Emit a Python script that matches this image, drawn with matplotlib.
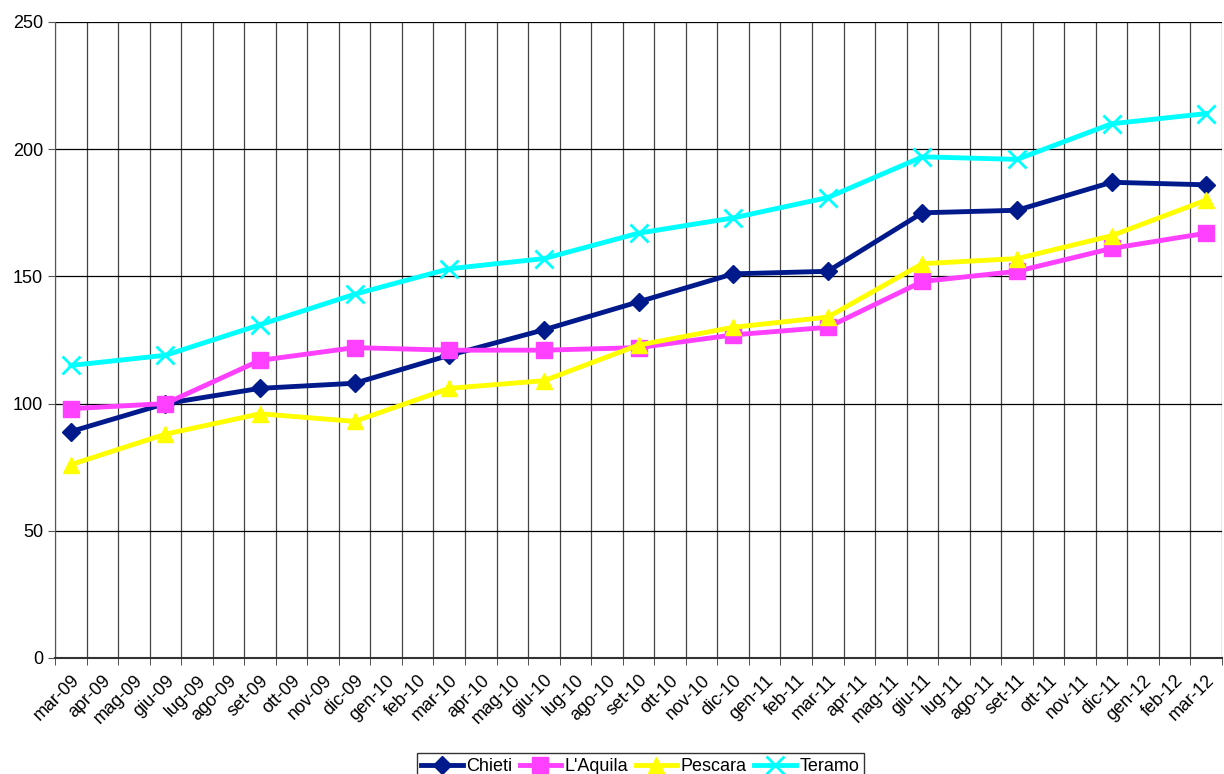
import numpy as np
import matplotlib
matplotlib.use('Agg')
import matplotlib.pyplot as plt

plt.rcParams['font.family'] = ['Liberation Sans', 'DejaVu Sans']

# mesi (etichette asse x)
months = ['mar-09', 'apr-09', 'mag-09', 'giu-09', 'lug-09', 'ago-09', 'set-09', 'ott-09', 'nov-09',
          'dic-09', 'gen-10', 'feb-10', 'mar-10', 'apr-10', 'mag-10', 'giu-10', 'lug-10', 'ago-10',
          'set-10', 'ott-10', 'nov-10', 'dic-10', 'gen-11', 'feb-11', 'mar-11', 'apr-11', 'mag-11',
          'giu-11', 'lug-11', 'ago-11', 'set-11', 'ott-11', 'nov-11', 'dic-11', 'gen-12', 'feb-12',
          'mar-12']
# dati trimestrali
quarters = ['mar-09', 'giu-09', 'set-09', 'dic-09', 'mar-10', 'giu-10', 'set-10', 'dic-10',
            'mar-11', 'giu-11', 'set-11', 'dic-11', 'mar-12']
chieti = [89, 100, 106, 108, 119, 129, 140, 151, 152, 175, 176, 187, 186]
laquila = [98, 100, 117, 122, 121, 121, 122, 127, 130, 148, 152, 161, 167]
pescara = [76, 88, 96, 93, 106, 109, 123, 130, 134, 155, 157, 166, 180]
teramo = [115, 119, 131, 143, 153, 157, 167, 173, 181, 197, 196, 210, 214]

series = [('Chieti', chieti, '#001A8C', 'D', 9),
          ("L'Aquila", laquila, '#FF40FF', 's', 11),
          ('Pescara', pescara, '#FFFF00', '^', 11),
          ('Teramo', teramo, '#00FFFF', 'x', 13)]

fig = plt.figure(figsize=(12.24, 7.74), dpi=100)
ax = fig.add_axes([55 / 1224, 1 - 658 / 774, (1222 - 55) / 1224, (658 - 22) / 774])

xq = [months.index(q) for q in quarters]
for name, vals, col, mk, ms in series:
    if mk == 'x':
        ax.plot(xq, vals, color=col, lw=3.5, marker=mk, ms=ms, mew=2, label=name, zorder=3)
    else:
        ax.plot(xq, vals, color=col, lw=3.5, marker=mk, ms=ms, mec=col, label=name, zorder=3)

ax.set_xlim(-0.5, len(months) - 0.5)
ax.set_ylim(0, 250)
ax.set_yticks(np.arange(0, 251, 50))
ax.set_xticks(np.arange(len(months)))
ax.set_xticklabels(months, rotation=45, ha='right', rotation_mode='anchor', fontsize=13)
ax.tick_params(axis='x', length=0, pad=10)
ax.set_xticks(np.arange(-0.5, len(months)), minor=True)
ax.tick_params(axis='x', which='minor', length=5, color='#333333')
ax.tick_params(axis='y', labelsize=13, length=5, color='#555555')
ax.grid(axis='y', color='black', lw=0.9)
ax.grid(axis='x', which='minor', color='#444444', lw=0.9)
ax.set_axisbelow(True)
for s in ['top', 'right']:
    ax.spines[s].set_visible(False)
ax.spines['left'].set_color('#555555')
ax.spines['bottom'].set_color('#333333')
ax.spines['bottom'].set_linewidth(1.5)

leg = fig.legend(loc='lower center', bbox_to_anchor=(0.523, -0.014), ncol=4, fontsize=13,
                 frameon=True, fancybox=False, edgecolor='black', handlelength=2.3,
                 columnspacing=0.4, handletextpad=0.2, borderpad=0.25, borderaxespad=0.3)
leg.get_frame().set_linewidth(1.0)

fig.savefig('out.png', dpi=100)
